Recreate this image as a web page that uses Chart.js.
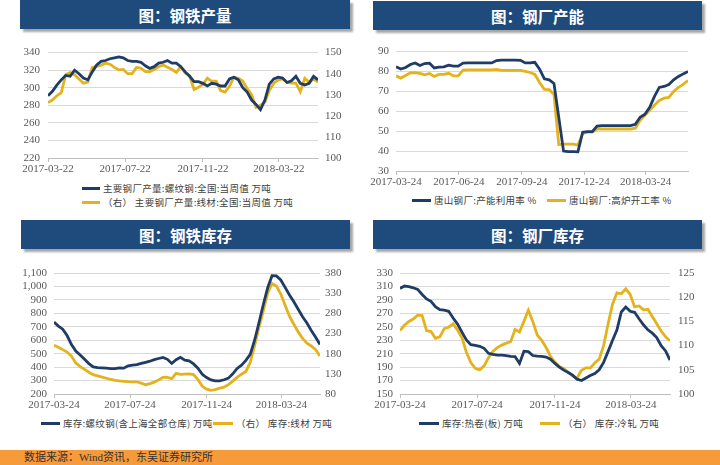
<!DOCTYPE html>
<html>
<head>
<meta charset="utf-8">
<script src="https://cdn.jsdelivr.net/npm/chart.js@4.4.1/dist/chart.umd.min.js"></script>
<style>
  body{margin:0;width:720px;height:465px;position:relative;background:#fff;overflow:hidden}
  .bar{position:absolute;background:#1f4a7c;color:#fff;font:bold 15.5px "Noto Sans CJK SC",sans-serif;display:flex;align-items:center;justify-content:center;box-shadow:3px 3px 2px rgba(0,0,0,.35)}
  canvas{position:absolute}
  .lg{position:absolute;display:flex;align-items:center;height:14px;font:9.5px "Noto Sans CJK SC",sans-serif;letter-spacing:.3px;color:#404040;white-space:nowrap}
  .lg i{display:inline-block;height:3px;margin-right:3px}
  .foot{position:absolute;left:0;top:450px;width:720px;height:15px;background:#f79a3a;font:11px "Liberation Serif","Noto Sans CJK SC",serif;color:#333;line-height:15px;padding-left:24px;box-sizing:border-box}
</style>
</head>
<body>
<div class="bar" style="left:20px;top:0;width:330px;height:29px">图：钢铁产量</div>
<div class="bar" style="left:373px;top:1px;width:329px;height:29px">图：钢厂产能</div>
<div class="bar" style="left:21px;top:220px;width:329px;height:29px">图：钢铁库存</div>
<div class="bar" style="left:373px;top:220px;width:329px;height:29px">图：钢厂库存</div>

<canvas id="c1" width="360" height="142" style="left:0;top:38px"></canvas>
<canvas id="c2" width="360" height="155" style="left:360px;top:38px"></canvas>
<canvas id="c3" width="360" height="158" style="left:0;top:258px"></canvas>
<canvas id="c4" width="360" height="158" style="left:360px;top:258px"></canvas>

<div class="lg" style="left:82px;top:181px"><i style="width:18px;background:#1f3c66"></i>主要钢厂产量:螺纹钢:全国:当周值 万吨</div>
<div class="lg" style="left:82px;top:195px"><i style="width:18px;background:#e3b21c"></i>（右） 主要钢厂产量:线材:全国:当周值 万吨</div>
<div class="lg" style="left:412px;top:193px"><i style="width:19px;background:#1f3c66"></i>唐山钢厂:产能利用率 %</div>
<div class="lg" style="left:547px;top:193px"><i style="width:19px;background:#e3b21c"></i>唐山钢厂:高炉开工率 %</div>
<div class="lg" style="left:41px;top:416px"><i style="width:19px;background:#1f3c66"></i>库存:螺纹钢(含上海全部仓库) 万吨</div>
<div class="lg" style="left:213px;top:416px"><i style="width:20px;background:#e3b21c"></i>（右） 库存:线材 万吨</div>
<div class="lg" style="left:419px;top:416px"><i style="width:20px;background:#1f3c66"></i>库存:热卷(板) 万吨</div>
<div class="lg" style="left:540px;top:416px"><i style="width:20px;background:#e3b21c"></i>（右） 库存:冷轧 万吨</div>

<div class="foot">数据来源：Wind资讯，东吴证券研究所</div>

<script>
const BLUE = '#1f3c66', GOLD = '#e3b21c';

// 图：钢铁产量 (weekly from 2017-03-22)
const prodStart = '2017-03-22';
const prodTicks = ['2017-03-22','2017-07-22','2017-11-22','2018-03-22'];
const rebarOutput = [291,296,303,309,314,313,320,316,311,309,
  318,326,330,331,333,334,335,334,331,330,
  330,329,325,322,324,328,329,331,328,328,
  324,318,313,307,307,305,302,305,304,302,
  302,310,312,309,300,295,286,281,275,286,
  304,310,312,311,306,308,313,305,303,305,
  313,309];
const wireOutput = [126.3,127.5,129.5,131,139.5,140.5,139.5,137.5,135.5,136,
  143,143.5,144,145,144.5,143,141.8,142,140,140,
  143,142.6,141,141,142,143.3,144.1,143,142,140.6,
  143.3,140.2,139,132.5,133.5,135,137.9,136.4,136.4,132,
  131.3,134,138.4,137.8,136.5,133,130,124,125,126.5,
  132,135.5,137,137.5,135.8,135.5,135.5,131.5,137.8,136,
  137.4,136];

// 图：钢厂产能 (weekly from 2017-03-24)
const capStart = '2017-03-24';
const capTicks = ['2017-03-24','2017-06-24','2017-09-24','2017-12-24','2018-03-24'];
const tsUtil = [82.4,81.2,82,83.5,84.3,83,84,84.2,81.8,82.2,
  82.3,83.2,82.7,82.7,84.2,84.3,84.3,84.3,84.3,84.3,
  84.3,85.5,85.7,85.7,85.7,85.7,85.6,84.3,84.3,84.6,
  81.2,76.3,75.8,74,57,40,39.7,39.7,39.6,49.5,
  49.8,49.8,52.6,52.8,52.8,52.8,52.8,52.8,52.8,52.8,
  53.5,57,58.5,62,67.5,72,72.5,73.5,75.8,77.5,
  78.8,80];
const tsBlast = [77.8,76.7,78,79.3,79.4,79,78.3,79,77.5,78.6,
  78.6,79.1,77.8,77.8,80.7,80.8,80.8,80.8,80.8,80.8,
  80.8,81.1,80.6,80.6,80.6,80.6,80.6,80.1,79.5,78.5,
  74.5,71,70.9,68.5,43.3,43.5,43.5,43.5,43,48.8,
  49.5,49.5,51.1,51.1,51.1,51.1,51.1,51.1,51.1,51.1,
  51.5,55.5,58,60.5,63,65.5,66.6,67,70,72,
  73.5,75.5];

// 图：钢铁库存 / 图：钢厂库存 (weekly from 2017-03-24)
const invStart = '2017-03-24';
const invTicks = ['2017-03-24','2017-07-24','2017-11-24','2018-03-24'];
const rebarStock = [735,705,682,635,568,520,490,458,426,402,
  396,394,392,389,389,394,392,410,415,418,
  428,436,444,456,464,472,458,427,455,473,
  452,446,424,392,346,322,305,298,297,306,
  318,350,390,414,450,495,600,730,866,990,
  1080,1078,1048,993,936,886,830,775,728,673,
  622,568];
const wireStock = [201,196,190,184,174,157,148,141,134,128,
  125,122,119,116,114,112.5,111.5,110.5,110,110,
  107,103,105.8,109.5,115,121,121,118,131,128.5,
  129.3,129.8,128,116,99,92,89,91,94.5,97,
  103.3,112,121,129,136,158,200,245,286,330,
  354,348,328,300,273,253,234,218,206,199,
  190,174];
const hotCoil = [307,310.6,309.8,308,305.6,298,291.5,287.8,280,275.5,
  274.8,273,263,254,242,230.5,223.5,222.5,221,218,
  210.5,209,207.7,207.7,207,206,205.5,195.5,213.7,213,
  207.2,206.2,206,205,201.8,195.5,190,185.5,182,178,
  172,170,173.9,177.5,180.5,186,197,213,229.5,245,
  272,279.3,273,271.5,262,253,245.5,240.5,234,222,
  214,200.5];
const coldRolled = [113.1,114.2,115,115.5,116.3,116.2,113.1,112.9,111.5,111.8,
  113.5,113.8,114.5,113.2,111.6,108.6,106.5,105.3,105,105.8,
  107.5,108.8,109.6,110.1,110.5,110.8,113.3,112.8,115,117.3,
  115,112.2,111.1,109.6,107.8,106.6,105.7,105.3,104.5,103.7,
  103.3,104.9,105.4,105.4,106.4,107.2,110,114.4,118.5,120.9,
  120.7,121.7,120.6,118,118.2,117.4,117.5,116,114.5,113,
  111.8,111];

const tickFont = { family:'"Liberation Serif", serif', size:11 };
const tickColor = '#595959';
const weeks = (a,b) => (Date.parse(b) - Date.parse(a)) / 6048e5;

function yAxis(o, side){
  return {
    position: side, min:o.min, max:o.max,
    afterFit: s => { s.width = o.width; },
    border: { display:false },
    grid: side === 'left' ? { color:'#d9d9d9', drawTicks:false } : { display:false, drawTicks:false },
    ticks: { stepSize:o.step, autoSkip:false, padding:o.pad, font:tickFont, color:tickColor,
      callback: v => o.comma ? v.toLocaleString('en-US') : v }
  };
}

function panel(id, o){
  const n = o.series[0].data.length;
  const tickPos = o.ticks.map(t => weeks(o.start, t));
  const scales = {
    x: {
      type:'linear', min:0, max:n-1,
      afterBuildTicks: s => { s.ticks = tickPos.map(v => ({ value:v })); },
      afterFit: s => { s.height = 22; },
      border: { display:true, color:'#bfbfbf' },
      grid: { drawOnChartArea:false, drawTicks:true, tickLength:4, color:'#bfbfbf' },
      ticks: { autoSkip:false, maxRotation:0, padding:1, font:tickFont, color:tickColor,
        callback: (v,i) => o.ticks[i] }
    },
    y: yAxis(o.left, 'left')
  };
  if (o.right) scales.y1 = yAxis(o.right, 'right');
  return new Chart(document.getElementById(id), {
    type:'line',
    data:{ datasets: o.series.map(s => ({
      data: s.data.map((v,i) => ({ x:i, y:v })),
      borderColor: s.color, borderWidth:2.8, pointRadius:0, tension:0,
      yAxisID: s.axis
    })) },
    options:{
      responsive:false, animation:false, devicePixelRatio:1,
      layout:{ padding:{ top:o.padTop, right:o.padRight || 0, left:0, bottom:0 } },
      plugins:{ legend:{ display:false }, tooltip:{ enabled:false } },
      scales
    }
  });
}

panel('c1', {
  start:prodStart, ticks:prodTicks, padTop:13,
  left:{ min:220, max:340, step:20, width:48, pad:8 },
  right:{ min:100, max:150, step:10, width:42, pad:7 },
  series:[ { data:rebarOutput, color:BLUE, axis:'y' }, { data:wireOutput, color:GOLD, axis:'y1' } ]
});
panel('c2', {
  start:capStart, ticks:capTicks, padTop:11, padRight:32,
  left:{ min:30, max:90, step:10, width:36, pad:7 },
  series:[ { data:tsUtil, color:BLUE, axis:'y' }, { data:tsBlast, color:GOLD, axis:'y' } ]
});
panel('c3', {
  start:invStart, ticks:invTicks, padTop:15,
  left:{ min:200, max:1100, step:100, width:54, pad:7, comma:true },
  right:{ min:80, max:380, step:50, width:40, pad:5 },
  series:[ { data:rebarStock, color:BLUE, axis:'y' }, { data:wireStock, color:GOLD, axis:'y1' } ]
});
panel('c4', {
  start:invStart, ticks:invTicks, padTop:15,
  left:{ min:150, max:330, step:20, width:40, pad:7 },
  right:{ min:100, max:125, step:5, width:50, pad:8 },
  series:[ { data:hotCoil, color:BLUE, axis:'y' }, { data:coldRolled, color:GOLD, axis:'y1' } ]
});
</script>
</body>
</html>
